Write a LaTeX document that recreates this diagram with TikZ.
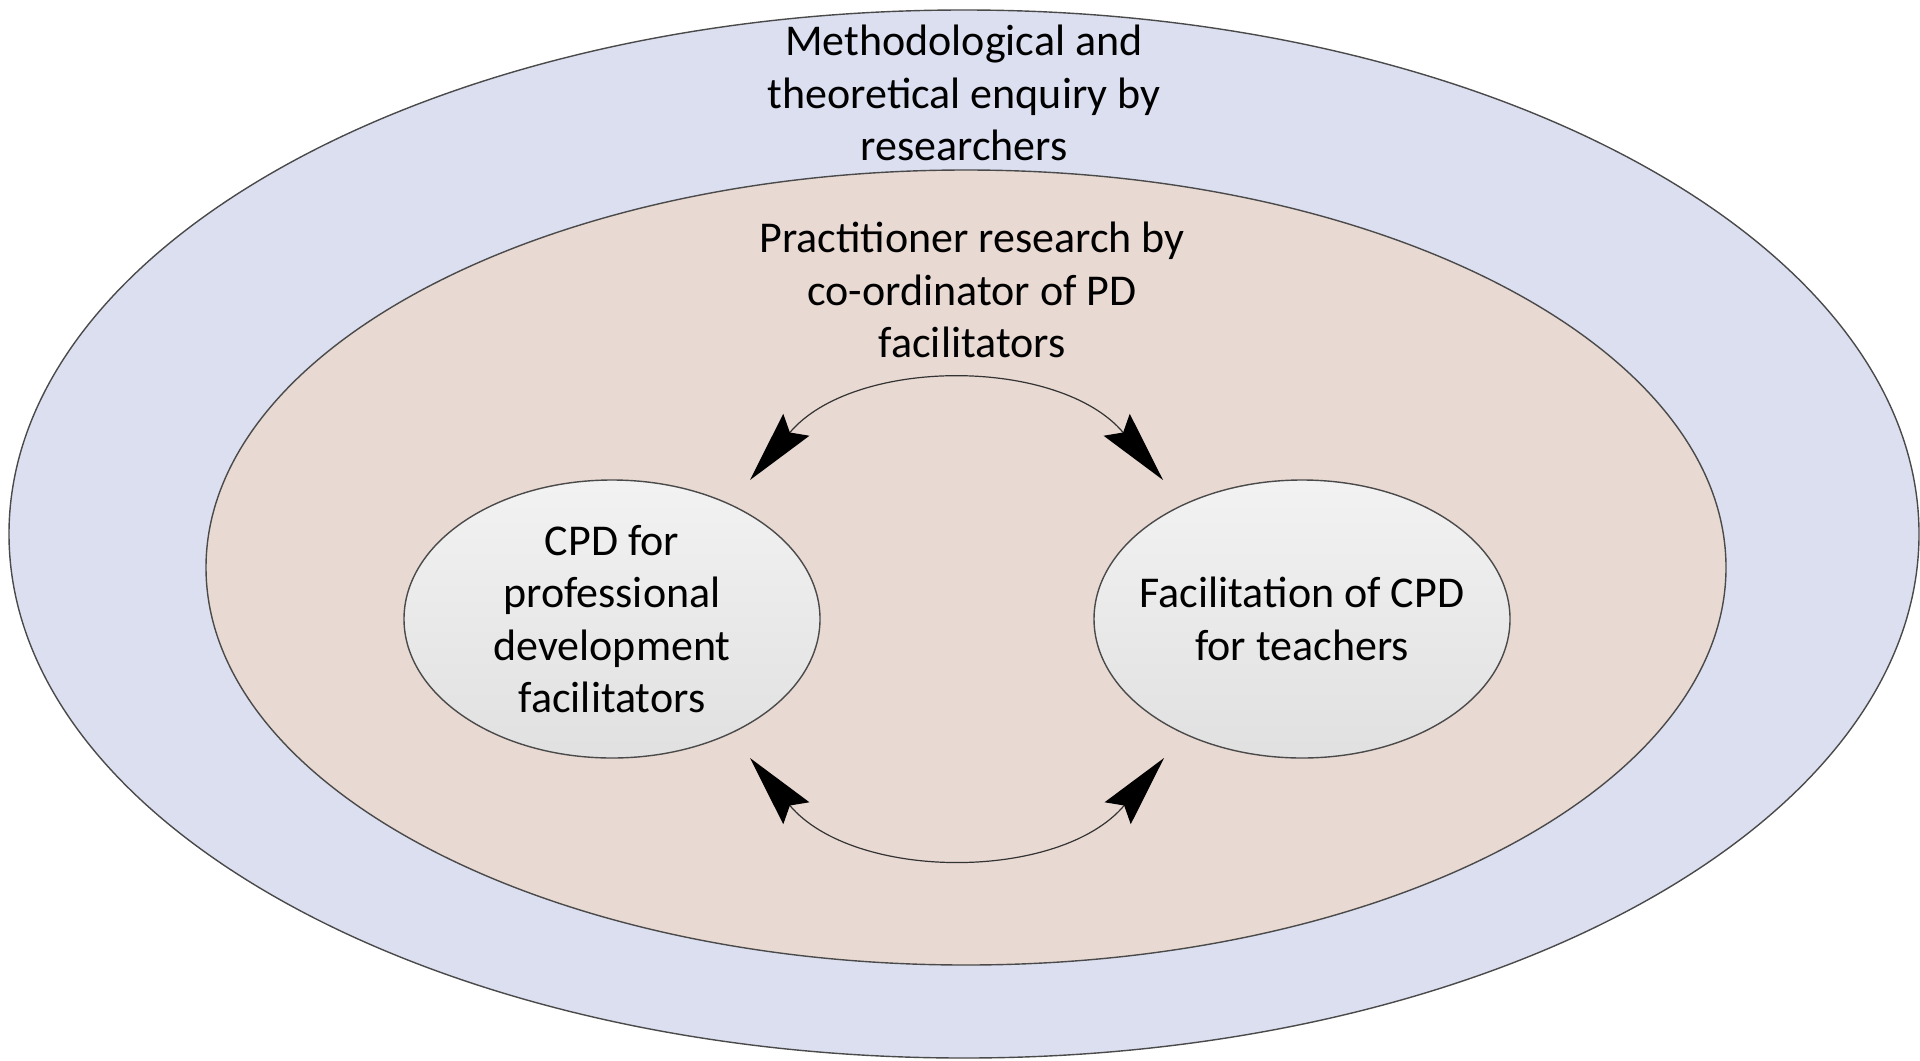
\documentclass[tikz,border=0pt]{standalone}
\usepackage{fontspec}
\setmainfont{Carlito}
\usepackage{tikz}
\usetikzlibrary{shapes.geometric, arrows.meta, positioning}
\definecolor{outerblue}{HTML}{DCDFF0}
\definecolor{innerpink}{HTML}{E8D9D2}
\definecolor{edgegray}{HTML}{4A4A4A}
\tikzset{
	ringnode/.style={
			ellipse,
			draw=edgegray,
			line width=0.7pt,
			inner sep=0pt
		},
	outernode/.style={
			ringnode,
			fill=outerblue,
			minimum width=955pt,
			minimum height=524pt
		},
	innernode/.style={
			ringnode,
			fill=innerpink,
			minimum width=760pt,
			minimum height=397.5pt
		},
	cpdnode/.style={
			ringnode,
			top color=white!95!black,
			bottom color=white!88!black,
			minimum width=208pt,
			minimum height=139pt,
			inner xsep=-45pt,
			inner ysep=-30pt,
			align=center,
			font=\fontsize{22}{26.3}\selectfont
		},
	labelnode/.style={
			align=center,
			inner sep=0pt,
			font=\fontsize{22}{26.3}\selectfont
		},
	cyclearrow/.style={
			line width=0.6pt,
			black!80,
			{Stealth[length=36pt, width=17pt, inset=5pt, black]}-{Stealth[length=36pt, width=17pt, inset=5pt, black]}
		}
}

\begin{document}
\begin{tikzpicture}[x=0.5pt, y=-0.5pt]
\useasboundingbox (0,0) rectangle (1920,1060);
\fill[white] (0,0) rectangle (1920,1060);

\node[outernode] (outer) at (964,534) {};
\node[innernode] (inner) at (966,567.5) {};

\node[labelnode] (outertext) at (964,93) {Methodological and\\theoretical enquiry by\\researchers};
\node[labelnode] (innertext) at (972,290) {Practitioner research by\\co-ordinator of PD\\facilitators};

\node[cpdnode] (cpd) at (612,619) {CPD for\\professional\\development\\facilitators};
\node[cpdnode] (facil) at (1302,619) {Facilitation of CPD\\for teachers};

% end points of the two cycle arrows
\coordinate (tl) at (750,480);
\coordinate (tr) at (1163,480);
\coordinate (bl) at (750,758);
\coordinate (br) at (1164,758);

\draw[cyclearrow] (tl) to[bend left=50] (tr);
\draw[cyclearrow] (bl) to[bend right=50] (br);

\end{tikzpicture}
\end{document}
